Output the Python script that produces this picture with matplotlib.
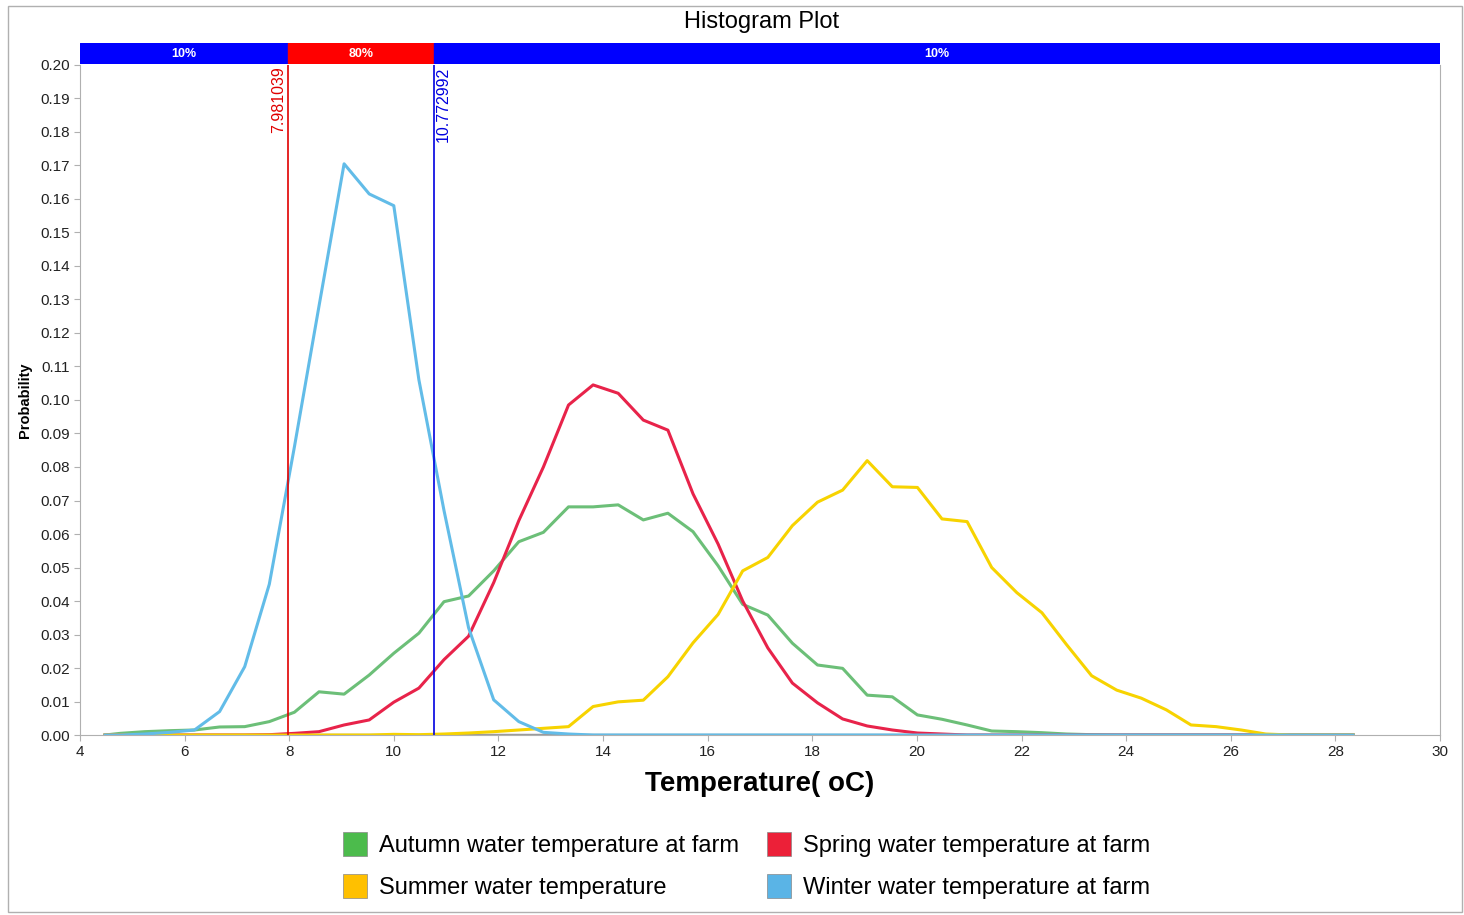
import numpy as np
import matplotlib.pyplot as plt
from matplotlib.patches import Patch, Rectangle

plt.rcParams["font.family"] = ["Liberation Sans", "DejaVu Sans"]

# bin centres (temperature, oC)
temps = [4.48, 4.77, 5.24, 5.72, 6.19, 6.67, 7.15, 7.62, 8.10, 8.57,
         9.05, 9.53, 10.00, 10.48, 10.96, 11.43, 11.91, 12.39, 12.86, 13.34,
         13.81, 14.29, 14.77, 15.24, 15.72, 16.20, 16.67, 17.15, 17.62, 18.10,
         18.58, 19.05, 19.53, 20.01, 20.48, 20.96, 21.43, 21.91, 22.39, 22.86,
         23.34, 23.82, 24.29, 24.77, 25.24, 25.72, 26.20, 26.67, 27.15, 27.63,
         28.10, 28.34]

autumn = [0.0, 0.0005, 0.0010, 0.0013, 0.0015, 0.0024, 0.0025, 0.0040, 0.0068, 0.0129,
          0.0122, 0.0179, 0.0244, 0.0304, 0.0398, 0.0415, 0.0490, 0.0577, 0.0605, 0.0681,
          0.0681, 0.0687, 0.0642, 0.0662, 0.0607, 0.0505, 0.0390, 0.0358, 0.0274, 0.0209,
          0.0199, 0.0119, 0.0114, 0.0060, 0.0047, 0.0030, 0.0012, 0.0010, 0.0007, 0.0003,
          0.0001, 0.0, 0.0, 0.0, 0.0, 0.0, 0.0, 0.0, 0.0, 0.0,
          0.0, 0.0]

spring = [0.0, 0.0, 0.0, 0.0, 0.0, 0.0, 0.0, 0.0001, 0.0005, 0.0010,
          0.0030, 0.0045, 0.0098, 0.0140, 0.0225, 0.0295, 0.0455, 0.0640, 0.0800, 0.0985,
          0.1045, 0.1020, 0.0940, 0.0910, 0.0720, 0.0570, 0.0400, 0.0260, 0.0155, 0.0096,
          0.0048, 0.0027, 0.0015, 0.0006, 0.0003, 0.0, 0.0, 0.0, 0.0, 0.0,
          0.0, 0.0, 0.0, 0.0, 0.0, 0.0, 0.0, 0.0, 0.0, 0.0,
          0.0, 0.0]

summer = [0.0, 0.0, 0.0, 0.0, 0.0, 0.0, 0.0, 0.0, 0.0, 0.0,
          0.0, 0.0, 0.0002, 0.0001, 0.0003, 0.0006, 0.0010, 0.0015, 0.0020, 0.0025,
          0.0085, 0.0099, 0.0104, 0.0174, 0.0275, 0.0360, 0.0490, 0.0530, 0.0625, 0.0695,
          0.0731, 0.0819, 0.0741, 0.0739, 0.0645, 0.0637, 0.0500, 0.0425, 0.0365, 0.0270,
          0.0177, 0.0134, 0.0110, 0.0075, 0.0030, 0.0025, 0.0015, 0.0003, 0.0, 0.0,
          0.0, 0.0]

winter = [0.0, 0.0, 0.0003, 0.0008, 0.0015, 0.0070, 0.0204, 0.0450, 0.0860, 0.1280,
          0.1705, 0.1615, 0.1580, 0.1060, 0.0670, 0.0320, 0.0105, 0.0040, 0.0008, 0.0003,
          0.0, 0.0, 0.0, 0.0, 0.0, 0.0, 0.0, 0.0, 0.0, 0.0,
          0.0, 0.0, 0.0, 0.0, 0.0, 0.0, 0.0, 0.0, 0.0, 0.0,
          0.0, 0.0, 0.0, 0.0, 0.0, 0.0, 0.0, 0.0, 0.0, 0.0,
          0.0, 0.0]

series_names = ["Autumn water temperature at farm", "Spring water temperature at farm",
                "Summer water temperature", "Winter water temperature at farm"]
line_colors = ["#6cbf78", "#e8234a", "#f7d300", "#62bce8"]
patch_colors = ["#4cbb4c", "#ec2038", "#ffc000", "#5ab4e6"]

left_cut = 7.981039
right_cut = 10.772992
band_labels = ["10%", "80%", "10%"]

fig = plt.figure(figsize=(14.64, 9.15), dpi=100)
fig.patches.append(Rectangle((8 / 1464, 3 / 915), 1454 / 1464, 906 / 915,
                             transform=fig.transFigure, fill=False,
                             edgecolor="#b0b0b0", linewidth=1.0))

ax = fig.add_axes([0.0546, 0.1967, 0.9290, 0.7323])
band = fig.add_axes([0.0546, 0.9300, 0.9290, 0.0230], sharex=ax)

# curves
for vals, col in zip([autumn, spring, summer, winter], line_colors):
    ax.plot(temps, vals, color=col, linewidth=2.2, solid_joinstyle="round")
ax.hlines(0, temps[0], temps[-1], color="#9a9a9a", linewidth=2.5, zorder=1)

# percentile markers
ax.axvline(left_cut, color="#e00000", linewidth=1.2)
ax.axvline(right_cut, color="#0000e0", linewidth=1.2)
ax.text(left_cut - 0.04, 0.1995, f"{left_cut:.6f}", color="#e00000", rotation=90,
        ha="right", va="top", fontsize=11.5)
ax.text(right_cut + 0.02, 0.1995, f"{right_cut:.6f}", color="#0000e0", rotation=90,
        ha="left", va="top", fontsize=11.5)

ax.set_xlim(4, 30)
ax.set_ylim(0, 0.20)
ax.set_xticks(np.arange(4, 31, 2))
ax.set_yticks(np.arange(0, 0.201, 0.01))
ax.yaxis.set_major_formatter(plt.FormatStrFormatter("%.2f"))
ax.tick_params(axis="both", labelsize=11, colors="#b0b0b0", labelcolor="#222222",
               length=4, width=0.8)
for side in ["left", "bottom", "right"]:
    ax.spines[side].set_color("#b0b0b0")
ax.spines["top"].set_visible(False)

ax.set_xlabel("Temperature( oC)", fontsize=20, fontweight="bold", labelpad=8)
ax.set_ylabel("Probability", fontsize=10.5, fontweight="bold", labelpad=6)

# percentile band
edges = [4, left_cut, right_cut, 30]
band_colors = ["#0000ff", "#ff0000", "#0000ff"]
for i, lab in enumerate(band_labels):
    band.axvspan(edges[i], edges[i + 1], color=band_colors[i])
    band.text((edges[i] + edges[i + 1]) / 2, 0.5, lab, color="white",
              fontsize=9, fontweight="bold", ha="center", va="center")
band.set_ylim(0, 1)
band.axis("off")

fig.text(0.52, 0.976, "Histogram Plot", ha="center", va="center", fontsize=17)

handles = [Patch(facecolor=patch_colors[i], edgecolor="#888888", linewidth=0.5,
                 label=series_names[i]) for i in [0, 2, 1, 3]]
fig.legend(handles=handles, loc="center", bbox_to_anchor=(0.51, 0.054), ncol=2,
           frameon=False, fontsize=17, handlelength=1.0, handleheight=1.2,
           handletextpad=0.5, columnspacing=1.2, labelspacing=0.7)

fig.savefig("out.png", dpi=100)
